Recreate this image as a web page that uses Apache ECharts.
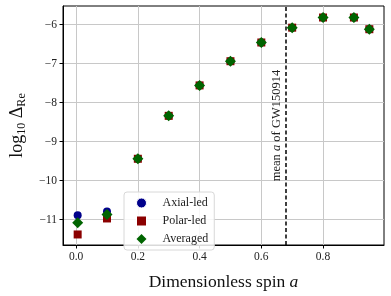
<!DOCTYPE html>
<html><head><meta charset="utf-8">
<script src="https://cdn.jsdelivr.net/npm/echarts@6/dist/echarts.min.js"></script>
<style>html,body{margin:0;padding:0;background:#fff}#c{width:391px;height:296px}</style>
</head><body><div id="c"></div>
<script>
const spins    = [0.005, 0.1, 0.2, 0.3, 0.4, 0.5, 0.6, 0.7, 0.8, 0.9, 0.95];
const axialLed = [-10.89, -10.79, -9.44, -8.34, -7.56, -6.94, -6.46, -6.08, -5.82, -5.82, -6.12];
const polarLed = [-11.38, -10.97, -9.44, -8.34, -7.56, -6.94, -6.46, -6.08, -5.82, -5.82, -6.12];
const averaged = [-11.08, -10.87, -9.44, -8.34, -7.56, -6.94, -6.46, -6.08, -5.82, -5.82, -6.12];
const xTicks = [0, 0.2, 0.4, 0.6, 0.8];
const yTicks = [-11, -10, -9, -8, -7, -6];
const meanSpin = 0.68;
const seriesNames = ['Axial-led', 'Polar-led', 'Averaged'];

const FONT = '"Liberation Serif", "DejaVu Serif", serif';
const pairs = arr => spins.map((x, i) => [x, arr[i]]);
const chart = echarts.init(document.getElementById('c'), null, {renderer: 'canvas'});
const fmtNum = (v, d) => (v < 0 ? '\u2212' : '') + Math.abs(v).toFixed(d);

chart.setOption({
  animation: false,
  backgroundColor: '#fff',
  grid: {left: 56, right: 7, top: 6, bottom: 45, show: true, borderColor: '#000', borderWidth: 1, backgroundColor: 'transparent'},
  xAxis: {
    type: 'value', min: -0.0425, max: 0.9975,
    axisLine: {show: true, onZero: false, lineStyle: {color: '#000'}},
    axisTick: {show: true, inside: false, length: 3.5, lineStyle: {color: '#000'}, customValues: xTicks},
    axisLabel: {customValues: xTicks, color: '#222', fontFamily: FONT, fontSize: 11.5, margin: 6, formatter: v => fmtNum(v, 1)},
    splitLine: {show: true, lineStyle: {color: '#c8c8c8', width: 1}},
    name: '{t|Dimensionless spin }{i|a}', nameLocation: 'middle', nameGap: 28,
    nameTextStyle: {rich: {t: {fontFamily: FONT, fontSize: 17.5, color: '#111'}, i: {fontFamily: FONT, fontSize: 17.5, fontStyle: 'italic', color: '#111'}}}
  },
  yAxis: {
    type: 'value', min: -11.65, max: -5.525,
    axisLine: {show: true, onZero: false, lineStyle: {color: '#000'}},
    axisTick: {show: true, inside: false, length: 3.5, lineStyle: {color: '#000'}, customValues: yTicks},
    axisLabel: {customValues: yTicks, color: '#222', fontFamily: FONT, fontSize: 11.5, margin: 6, formatter: v => fmtNum(v, 0)},
    splitLine: {show: true, lineStyle: {color: '#c8c8c8', width: 1}},
    name: '{a|log}{s|10}{a| \u0394}{s|Re}', nameLocation: 'middle', nameGap: 35, nameRotate: 90,
    nameTextStyle: {rich: {
      a: {fontFamily: FONT, fontSize: 18, color: '#111', lineHeight: 22},
      s: {fontFamily: FONT, fontSize: 12, color: '#111', lineHeight: 22, verticalAlign: 'bottom', padding: [6, 0, 0, 0]}
    }}
  },
  legend: {
    data: [
      {name: seriesNames[0], icon: 'circle', itemStyle: {borderColor: '#fff', borderWidth: 1}},
      {name: seriesNames[1], icon: 'rect', itemStyle: {borderColor: '#fff', borderWidth: 1}},
      {name: seriesNames[2], icon: 'diamond'}
    ],
    orient: 'vertical', left: 124, top: 192,
    padding: [5, 6, 5, 12], itemGap: 6, itemWidth: 10, itemHeight: 10,
    backgroundColor: 'rgba(255,255,255,0.85)', borderColor: '#d8d8d8', borderWidth: 1, borderRadius: 3,
    textStyle: {fontFamily: FONT, fontSize: 12, color: '#222', padding: [0, 0, 0, 11]}
  },
  series: [
    {name: seriesNames[0], type: 'scatter', data: pairs(axialLed), symbol: 'circle', symbolSize: 8, itemStyle: {color: '#00008b', opacity: 1}, z: 2},
    {name: seriesNames[1], type: 'scatter', data: pairs(polarLed), symbol: 'rect', symbolSize: 8, itemStyle: {color: '#8b0000', opacity: 1}, z: 3},
    {name: seriesNames[2], type: 'scatter', data: pairs(averaged), symbol: 'diamond', symbolSize: 11, itemStyle: {color: '#006400', opacity: 1}, z: 4,
     markLine: {
       silent: true, symbol: ['none', 'none'],
       lineStyle: {color: '#000', type: [4, 2.5], width: 1.5},
       label: {show: true, position: 'insideMiddleTop', formatter: '{t|mean }{i|a}{t| of GW150914}', distance: 3,
         rich: {t: {fontFamily: FONT, fontSize: 12.5, color: '#222'}, i: {fontFamily: FONT, fontSize: 12.5, fontStyle: 'italic', color: '#222'}}},
       data: [{xAxis: meanSpin}]
     }}
  ]
});
</script></body></html>
